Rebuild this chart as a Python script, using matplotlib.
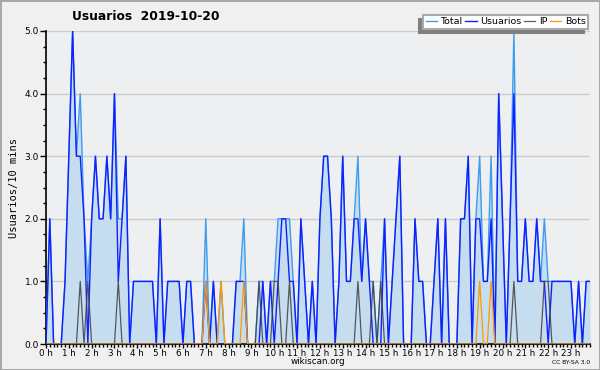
import numpy as np
import matplotlib
matplotlib.use("Agg")
import matplotlib.pyplot as plt
from matplotlib.ticker import MultipleLocator, FixedLocator, FormatStrFormatter

# values per 10 minutes, 144 slots from 0 h to 23 h 50
usuarios = [0, 2, 0, 0, 0, 1, 3, 5, 3, 3, 2, 0, 2, 3, 2, 2, 3, 2, 4, 1,
            2, 3, 0, 1, 1, 1, 1, 1, 1, 0, 2, 0, 1, 1, 1, 1, 0, 1, 1, 0,
            0, 0, 1, 0, 1, 0, 0, 0, 0, 0, 1, 1, 1, 0, 0, 0, 0, 1, 0, 1,
            0, 1, 2, 2, 1, 1, 0, 2, 1, 0, 1, 0, 2, 3, 3, 2, 0, 1, 3, 1,
            1, 2, 2, 1, 2, 1, 0, 0, 0, 2, 0, 1, 2, 3, 0, 0, 0, 2, 1, 1,
            0, 0, 1, 2, 0, 2, 0, 0, 0, 2, 2, 3, 0, 2, 2, 1, 1, 2, 0, 4,
            2, 0, 2, 4, 1, 1, 2, 1, 1, 2, 1, 1, 0, 1, 1, 1, 1, 1, 1, 0,
            1, 0, 1, 1]
ip = [0, 0, 0, 0, 0, 0, 0, 0, 0, 1, 0, 1, 0, 0, 0, 0, 0, 0, 0, 1,
      0, 0, 0, 0, 0, 0, 0, 0, 0, 0, 0, 0, 0, 0, 0, 0, 0, 0, 0, 0,
      0, 0, 0, 0, 0, 0, 0, 0, 0, 0, 0, 0, 0, 0, 0, 0, 1, 0, 0, 0,
      1, 1, 0, 0, 1, 0, 0, 0, 0, 0, 0, 0, 0, 0, 0, 0, 0, 0, 0, 0,
      0, 0, 1, 0, 0, 0, 1, 0, 1, 0, 0, 0, 0, 0, 0, 0, 0, 0, 0, 0,
      0, 0, 0, 0, 0, 0, 0, 0, 0, 0, 0, 0, 0, 0, 0, 0, 0, 0, 0, 0,
      0, 0, 0, 1, 0, 0, 0, 0, 0, 0, 0, 1, 1, 0, 0, 0, 0, 0, 0, 0,
      0, 0, 0, 0]
bots = [0, 0, 0, 0, 0, 0, 0, 0, 0, 0, 0, 0, 0, 0, 0, 0, 0, 0, 0, 0,
        0, 0, 0, 0, 0, 0, 0, 0, 0, 0, 0, 0, 0, 0, 0, 0, 0, 0, 0, 0,
        0, 0, 1, 0, 0, 0, 1, 0, 0, 0, 0, 0, 1, 0, 0, 0, 0, 0, 0, 0,
        0, 0, 0, 0, 0, 0, 0, 0, 0, 0, 0, 0, 0, 0, 0, 0, 0, 0, 0, 0,
        0, 0, 0, 0, 0, 0, 0, 0, 0, 0, 0, 0, 0, 0, 0, 0, 0, 0, 0, 0,
        0, 0, 0, 0, 0, 0, 0, 0, 0, 0, 0, 0, 0, 0, 1, 0, 0, 1, 0, 0,
        0, 0, 0, 0, 0, 0, 0, 0, 0, 0, 0, 0, 0, 0, 0, 0, 0, 0, 0, 0,
        0, 0, 0, 0]
total = [0, 2, 0, 0, 0, 1, 3, 5, 3, 4, 2, 1, 2, 3, 2, 2, 3, 2, 4, 2,
         2, 3, 0, 1, 1, 1, 1, 1, 1, 0, 2, 0, 1, 1, 1, 1, 0, 1, 1, 0,
         0, 0, 2, 0, 1, 0, 1, 0, 0, 0, 1, 1, 2, 0, 0, 0, 1, 1, 0, 1,
         1, 2, 2, 2, 2, 1, 0, 2, 1, 0, 1, 0, 2, 3, 3, 2, 0, 1, 3, 1,
         1, 2, 3, 1, 2, 1, 1, 0, 1, 2, 0, 1, 2, 3, 0, 0, 0, 2, 1, 1,
         0, 0, 1, 2, 0, 2, 0, 0, 0, 2, 2, 3, 0, 2, 3, 1, 1, 3, 0, 4,
         2, 0, 2, 5, 1, 1, 2, 1, 1, 2, 1, 2, 1, 1, 1, 1, 1, 1, 1, 0,
         1, 0, 1, 1]
hour_labels = ["%d h" % h for h in range(24)]

t = np.arange(len(total)) / 6.0

fig = plt.figure(figsize=(6, 3.7), dpi=100, facecolor="#f0f0f0",
                 edgecolor="#a8a8a8", linewidth=2)
ax = fig.add_axes([46/600, 1-344/370, 544/600, 313/370])
ax.set_facecolor("#eeeff1")

ax.fill_between(t, 0, total, color="#c6ddf0", linewidth=0, zorder=1)
ax.plot(t, total, color="#3d9cf0", linewidth=1.0, label="Total", zorder=3)
ax.plot(t, usuarios, color="#1020ff", linewidth=1.0, label="Usuarios", zorder=4)
ax.plot(t, ip, color="#404040", linewidth=0.9, label="IP", zorder=5, alpha=0.85)
ax.plot(t, bots, color="#ff9900", linewidth=0.9, label="Bots", zorder=6)

ax.set_xlim(0, t[-1])
ax.set_ylim(0, 5)
ax.yaxis.set_major_locator(MultipleLocator(1))
ax.yaxis.set_minor_locator(MultipleLocator(0.25))
ax.yaxis.set_major_formatter(FormatStrFormatter("%.1f"))
ax.xaxis.set_major_locator(FixedLocator(range(24)))
ax.xaxis.set_minor_locator(MultipleLocator(1/6))
ax.set_xticklabels(hour_labels)
ax.grid(axis="y", color="#cccccc", linewidth=1, zorder=0)
ax.set_axisbelow(True)

for s in ["top", "right"]:
    ax.spines[s].set_visible(False)
ax.spines["left"].set_linewidth(1.2)
ax.spines["bottom"].set_linewidth(1.2)
ax.tick_params(axis="y", which="major", labelsize=6.5, length=4, width=1, pad=1)
ax.tick_params(axis="x", which="major", labelsize=6.3, length=3, width=1, pad=0.5)
ax.tick_params(axis="both", which="minor", length=2.5, width=1)

ax.set_ylabel("Usuarios/10 mins", fontsize=7.5, family="DejaVu Sans Mono", labelpad=4)
fig.text(318/600, 1 - 361/370, "wikiscan.org", fontsize=6.3, ha="center", va="center")
fig.text(146/600, 1 - 17/370, "Usuarios  2019-10-20", fontsize=8.8,
         fontweight="bold", ha="center", va="center")
fig.text(590/600, 1 - 363/370, "CC BY-SA 3.0", fontsize=4.3, ha="right", va="center")

leg = ax.legend(loc="upper right", bbox_to_anchor=(588/600, 1 - 15/370),
                bbox_transform=fig.transFigure, ncol=4, fontsize=6.8,
                frameon=True, fancybox=False,
                shadow={"ox": -3, "oy": -3, "color": "#808080", "alpha": 1},
                handlelength=1.2, handletextpad=0.35, columnspacing=0.3,
                borderpad=0.25, borderaxespad=0)
leg.get_frame().set_edgecolor("#aaaaaa")
leg.get_frame().set_linewidth(1.5)
leg.get_frame().set_facecolor("white")
leg.set_zorder(10)

fig.savefig("out.png", dpi=100, facecolor=fig.get_facecolor(), edgecolor=fig.get_edgecolor())
